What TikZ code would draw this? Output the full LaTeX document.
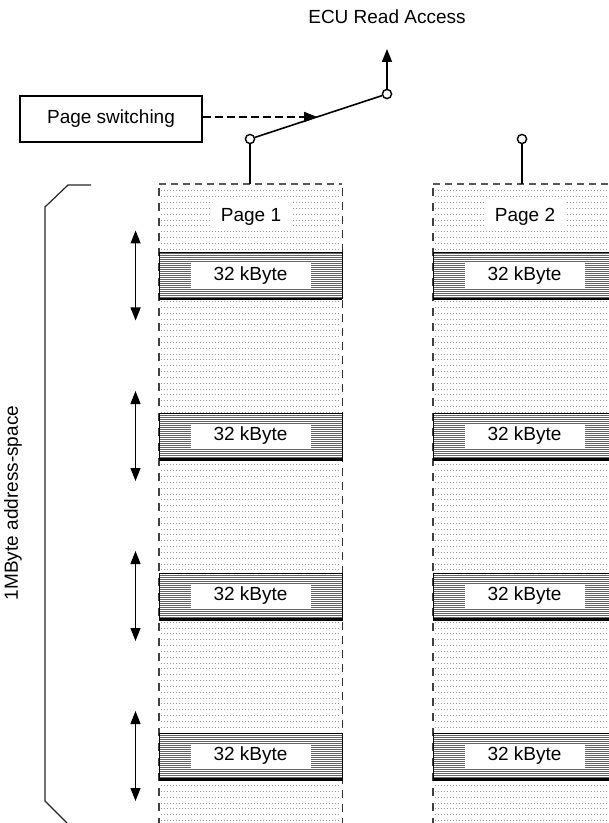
\documentclass[tikz,border=0pt]{standalone}
\usepackage{fontspec}
\setmainfont{Liberation Sans}
\usetikzlibrary{positioning,calc,arrows.meta,patterns.meta}

\tikzset{
    sparse/.style={gray!80,line width=0.3pt,dash pattern=on 0.5pt off 1pt},
    leftedge/.style={black!75,line width=1.1pt,dash pattern=on 4pt off 3.5pt},
    rightedge/.style={black!80,line width=0.5pt,dash pattern=on 4pt off 3pt},
    topedge/.style={black!65,line width=1pt,dash pattern=on 3.5pt off 2.5pt},
    block/.style={draw=black,line width=0.5pt,minimum width=91.5pt,minimum height=23pt,inner sep=0pt,
        preaction={fill=white},pattern={Lines[angle=0,distance=1pt,line width=0.4pt]},pattern color=black!60},
    sizelbl/.style={fill=white,inner sep=0pt,minimum width=60pt,minimum height=12.5pt},
    pagelbl/.style={fill=white,inner sep=0pt,minimum width=41pt,minimum height=14.5pt},
    contact/.style={circle,draw,fill=white,line width=0.7pt,inner sep=0pt,minimum size=4.6pt},
    wire/.style={line width=0.8pt},
    tip/.style={-{Triangle[length=6.5pt,width=5pt]}},
    dbl/.style={line width=0.6pt,{Triangle[length=6.5pt,width=5pt]}-{Triangle[length=6.5pt,width=5pt]}},
}

\begin{document}
\begin{tikzpicture}[x=0.5pt,y=-0.5pt,every node/.style={font=\fontsize{9.5}{11}\selectfont}]
    \clip (0,0) rectangle (609,823);

    % the two pages
    \foreach \cx [count=\i] in {159,433} {
        \foreach \yy in {190.7,196.53,...,823} \draw[sparse] (\cx+2,\yy) -- (\cx+182,\yy);
        \draw[leftedge] (\cx,188) -- (\cx,823);
        \draw[rightedge] (\cx+183,188) -- (\cx+183,823);
        \draw[topedge] (\cx,184) -- (\cx+183,184);
        \coordinate (top\i) at (\cx+91,184);
        \node[pagelbl] (page\i) at (\cx+92,217) {Page \i};
        \foreach \cy [count=\j] in {275.5,436,596,756} {
            \node[block] (blk\i\j) at (\cx+91.5,\cy) {};
            \draw[line width=1.1pt] (blk\i\j.south west) -- (blk\i\j.south east);
            \node[sizelbl] (kb\i\j) at (blk\i\j) {32 kByte};
        }
    }

    % size arrows
    \foreach \j in {1,...,4} {
        \coordinate (up\j) at ($(blk1\j.west)+(-23,-45)$);
        \coordinate (dn\j) at ($(blk1\j.west)+(-23,45)$);
        \draw[dbl] (up\j) -- (dn\j);
    }

    % address space bracket
    \draw[line width=0.6pt,black!85] (91,185) -- (68,185) -- (45,207) -- (45,801) -- (67,823);
    \node[rotate=90] (space) at (13,503) {1MByte address-space};

    % switch
    \node[contact] (c1) at (250,139) {};
    \node[contact] (c2) at (522,139) {};
    \node[contact] (cc) at (387,94) {};
    \coordinate (out) at (387,49);
    \node (ecu) at (387,17) {ECU Read Access};
    \draw[wire] (c1) -- (c1 |- top1);
    \draw[wire] (c2) -- (c2 |- top2);
    \draw[wire] (c1) -- (cc);
    \draw[wire,tip] (cc) -- (out);

    \node[draw,line width=0.6pt,minimum width=91pt,minimum height=23pt] (ps) at (111,119) {Page switching};
    \coordinate (hit) at ($(c1)!0.49!(cc)$);
    \draw[line width=0.6pt,dash pattern=on 4pt off 2pt,tip] (ps.east |- hit) -- (hit);
\end{tikzpicture}
\end{document}
